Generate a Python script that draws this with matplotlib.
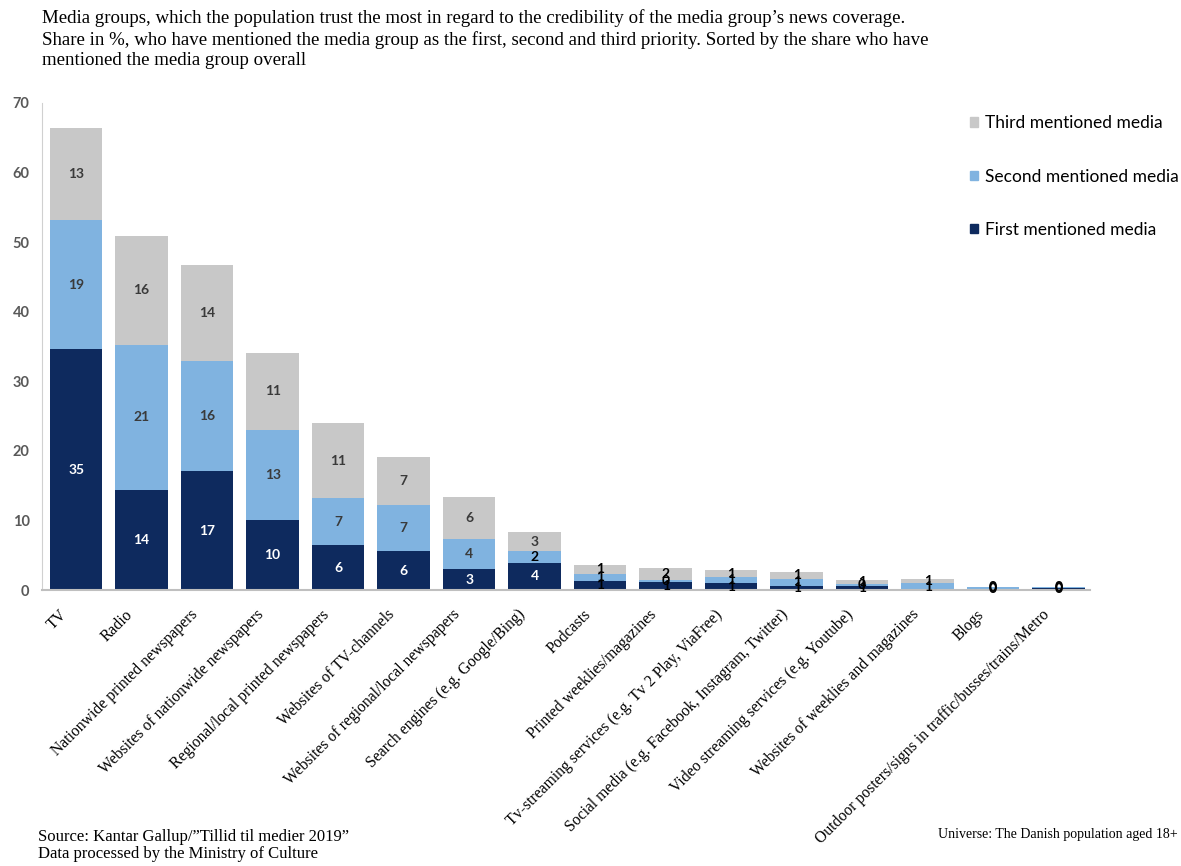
import numpy as np
import matplotlib.pyplot as plt
import matplotlib.transforms as mtransforms
from matplotlib.patches import Patch

categories = [
    "TV", "Radio", "Nationwide printed newspapers", "Websites of nationwide newspapers",
    "Regional/local printed newspapers", "Websites of TV-channels",
    "Websites of regional/local newspapers", "Search engines (e.g. Google/Bing)",
    "Podcasts", "Printed weeklies/magazines",
    "Tv-streaming services (e.g. Tv 2 Play, ViaFree)",
    "Social media (e.g. Facebook, Instagram, Twitter)",
    "Video streaming services (e.g. Youtube)", "Websites of weeklies and magazines",
    "Blogs", "Outdoor posters/signs in traffic/busses/trains/Metro",
]
first = [34.6, 14.4, 17.1, 10.1, 6.4, 5.6, 3.0, 3.9, 1.3, 1.1, 1.0, 0.6, 0.6, 0.0, 0.2, 0.3]
second = [18.6, 20.8, 15.8, 12.9, 6.8, 6.6, 4.4, 1.7, 1.0, 0.3, 0.8, 1.0, 0.3, 1.0, 0.2, 0.1]
third = [13.2, 15.7, 13.8, 11.1, 10.8, 6.9, 5.9, 2.7, 1.3, 1.7, 1.1, 1.0, 0.6, 0.6, 0.1, 0.1]

series = [
    ("First mentioned media", first, "#0e2a5e"),
    ("Second mentioned media", second, "#80b3e0"),
    ("Third mentioned media", third, "#c8c8c8"),
]

sans = ["Lato", "DejaVu Sans"]
serif = ["Liberation Serif", "DejaVu Serif"]

fig = plt.figure(figsize=(11.81, 8.66), dpi=100)
ax = fig.add_axes([0.0356, 0.3187, 0.8874, 0.5624])

x = np.arange(len(categories))
bottom = np.zeros(len(categories))
for name, vals, color in series:
    vals = np.array(vals)
    ax.bar(x, vals, width=0.8, bottom=bottom, color=color, label=name)
    for xi, b, v in zip(x, bottom, vals):
        if v <= 0:
            continue
        if color == "#0e2a5e" and v >= 2:
            tc = "white"
        elif v >= 2:
            tc = "#3a3a3a"
        else:
            tc = "black"
        ax.text(xi, b + v / 2, f"{round(v)}", ha="center", va="center",
                fontsize=10, color=tc, fontweight="bold", family=sans)
    bottom += vals

ax.set_xlim(-0.52, len(categories) - 0.52)
ax.set_ylim(0, 70)
ax.set_yticks(range(0, 71, 10))
ax.tick_params(axis="y", length=0, labelsize=10.5, labelcolor="#595959", pad=9)
for lbl in ax.get_yticklabels():
    lbl.set_family(sans)
    lbl.set_fontweight("bold")

ax.set_xticks(x)
ax.set_xticklabels(categories, rotation=45, ha="right", rotation_mode="anchor",
                   family=serif, fontsize=11.3)
ax.tick_params(axis="x", length=0, pad=12)
# shift the slanted category labels a little to the left of each bar
shift = mtransforms.ScaledTranslation(-0.17, 0, fig.dpi_scale_trans)
for lbl in ax.get_xticklabels():
    lbl.set_transform(lbl.get_transform() + shift)

for s in ["top", "right"]:
    ax.spines[s].set_visible(False)
ax.spines["left"].set_color("#d0d0d0")
ax.spines["bottom"].set_color("#bfbfbf")
ax.spines["bottom"].set_linewidth(1.5)

handles = [Patch(color=c, label=n) for n, _, c in series][::-1]
fig.legend(handles=handles, loc="upper left", bbox_to_anchor=(0.808, 0.885),
           frameon=False, handlelength=0.45, handleheight=0.45, handletextpad=0.4,
           labelspacing=2.15, prop={"family": sans, "size": 12.5})

fig.text(0.0356, 0.99,
         "Media groups, which the population trust the most in regard to the credibility of the media group\u2019s news coverage.\n"
         "Share in %, who have mentioned the media group as the first, second and third priority. Sorted by the share who have\n"
         "mentioned the media group overall",
         ha="left", va="top", family=serif, fontsize=13.6, linespacing=1.3)

fig.text(0.032, 0.043, "Source: Kantar Gallup/\u201dTillid til medier 2019\u201d\nData processed by the Ministry of Culture",
         ha="left", va="top", family=serif, fontsize=12, linespacing=1.08)
fig.text(0.997, 0.036, "Universe: The Danish population aged 18+",
         ha="right", va="center", family=serif, fontsize=10)

fig.savefig("out.png", dpi=100)
